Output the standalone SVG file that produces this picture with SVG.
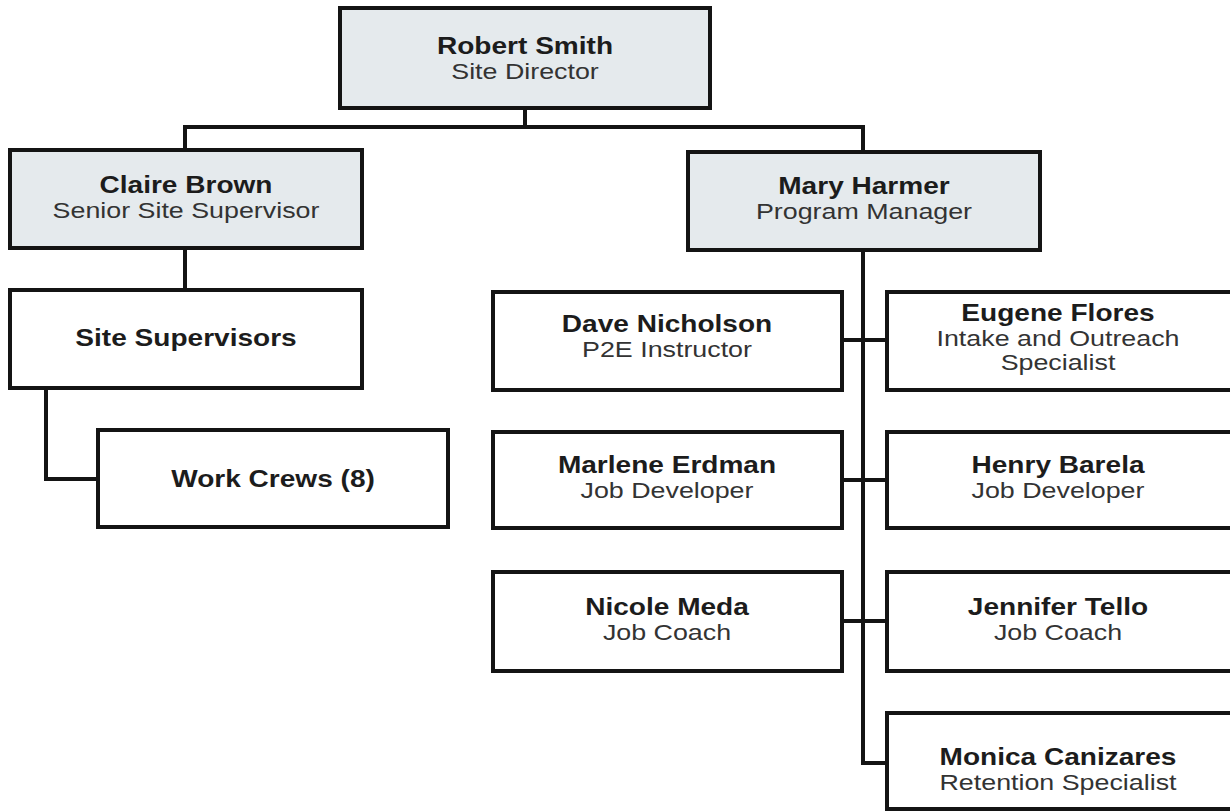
<svg xmlns="http://www.w3.org/2000/svg" width="1230" height="811" viewBox="0 0 1230 811">
<style>
.box{fill:#ffffff;stroke:#141414;stroke-width:4}
.grey{fill:#e5eaed}
.conn{fill:none;stroke:#141414;stroke-width:4;stroke-linecap:square}
text{font-family:"Liberation Sans",Arial,sans-serif;text-anchor:middle}
.n{font-weight:bold;font-size:23px;fill:#1c1c1c}
.t{font-size:22px;fill:#333333}
</style>
<rect width="1230" height="811" fill="#ffffff"/>
<g id="connectors">
<path class="conn" d="M525 108 V127 M185 127 H863 M185 127 V150 M863 127 V152"/>
<path class="conn" d="M185 248 V290"/>
<path class="conn" d="M46 388 V479 H98"/>
<path class="conn" d="M863 250 V763 H887"/>
<path class="conn" d="M842 340 H887 M842 480 H887 M842 621 H887"/>
</g>
<g id="robert-smith">
<rect class="box grey" x="340" y="8" width="370" height="100"/>
<g transform="translate(525,0) scale(1.22,1)"><text class="n" x="0" y="54">Robert Smith</text><text class="t" x="0" y="79">Site Director</text></g>
</g>
<g id="claire-brown">
<rect class="box grey" x="10" y="150" width="352" height="98"/>
<g transform="translate(186,0) scale(1.22,1)"><text class="n" x="0" y="193">Claire Brown</text><text class="t" x="0" y="218">Senior Site Supervisor</text></g>
</g>
<g id="site-supervisors">
<rect class="box" x="10" y="290" width="352" height="98"/>
<g transform="translate(186,0) scale(1.22,1)"><text class="n" x="0" y="346">Site Supervisors</text></g>
</g>
<g id="work-crews">
<rect class="box" x="98" y="430" width="350" height="97"/>
<g transform="translate(273,0) scale(1.22,1)"><text class="n" x="0" y="487">Work Crews (8)</text></g>
</g>
<g id="mary-harmer">
<rect class="box grey" x="688" y="152" width="352" height="98"/>
<g transform="translate(864,0) scale(1.22,1)"><text class="n" x="0" y="194">Mary Harmer</text><text class="t" x="0" y="219">Program Manager</text></g>
</g>
<g id="dave-nicholson">
<rect class="box" x="493" y="292" width="349" height="98"/>
<g transform="translate(667,0) scale(1.22,1)"><text class="n" x="0" y="332">Dave Nicholson</text><text class="t" x="0" y="357">P2E Instructor</text></g>
</g>
<g id="eugene-flores">
<rect class="box" x="887" y="292" width="360" height="98"/>
<g transform="translate(1058,0) scale(1.22,1)"><text class="n" x="0" y="321">Eugene Flores</text><text class="t" x="0" y="346">Intake and Outreach</text><text class="t" x="0" y="370">Specialist</text></g>
</g>
<g id="marlene-erdman">
<rect class="box" x="493" y="432" width="349" height="96"/>
<g transform="translate(667,0) scale(1.22,1)"><text class="n" x="0" y="473">Marlene Erdman</text><text class="t" x="0" y="498">Job Developer</text></g>
</g>
<g id="henry-barela">
<rect class="box" x="887" y="432" width="360" height="96"/>
<g transform="translate(1058,0) scale(1.22,1)"><text class="n" x="0" y="473">Henry Barela</text><text class="t" x="0" y="498">Job Developer</text></g>
</g>
<g id="nicole-meda">
<rect class="box" x="493" y="572" width="349" height="99"/>
<g transform="translate(667,0) scale(1.22,1)"><text class="n" x="0" y="615">Nicole Meda</text><text class="t" x="0" y="640">Job Coach</text></g>
</g>
<g id="jennifer-tello">
<rect class="box" x="887" y="572" width="360" height="99"/>
<g transform="translate(1058,0) scale(1.22,1)"><text class="n" x="0" y="615">Jennifer Tello</text><text class="t" x="0" y="640">Job Coach</text></g>
</g>
<g id="monica-canizares">
<rect class="box" x="887" y="713" width="360" height="96"/>
<g transform="translate(1058,0) scale(1.22,1)"><text class="n" x="0" y="765">Monica Canizares</text><text class="t" x="0" y="790">Retention Specialist</text></g>
</g>
</svg>
